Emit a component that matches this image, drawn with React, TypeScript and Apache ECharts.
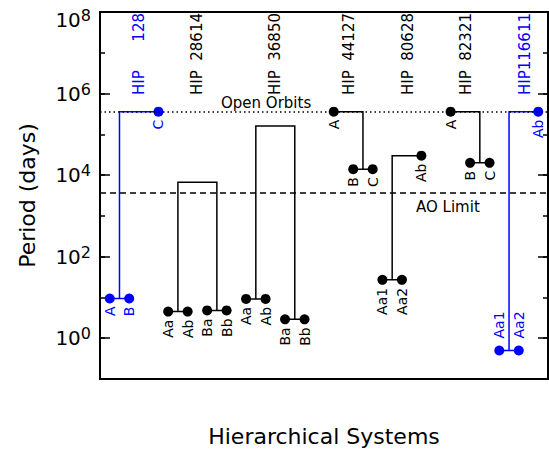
import { useEffect, useRef } from 'react';
import * as echarts from 'echarts';

// Hierarchical multiple systems: each one is two groups (a close pair or a
// single star) joined by an outer orbit. Periods are in days.
const hipNumbers = [128, 28614, 36850, 44127, 80628, 82321, 116611];
const systemLabelSlots = [2, 5, 9, 12.8, 15.8, 18.8, 21.8];

const firstGroupNames = [['A', 'B'], ['Aa', 'Ab'], ['Aa', 'Ab'], ['A'], ['Aa1', 'Aa2'], ['A'], ['Aa1', 'Aa2']];
const firstGroupSlots = [[0.5, 1.5], [3.5, 4.5], [7.5, 8.5], [12], [14.5, 15.5], [18], [20.5, 21.5]];
const firstGroupPeriods = [9.4, 4.5, 9.2, 3.6e5, 27, 3.6e5, 0.5];

const secondGroupNames = [['C'], ['Ba', 'Bb'], ['Ba', 'Bb'], ['B', 'C'], ['Ab'], ['B', 'C'], ['Ab']];
const secondGroupSlots = [[3], [5.5, 6.5], [9.5, 10.5], [13, 14], [16.5], [19, 20], [22.5]];
const secondGroupPeriods = [3.6e5, 4.8, 2.9, 1.4e4, 3.0e4, 2.0e4, 3.6e5];

const outerPeriods = [3.6e5, 6700, 1.6e5, 3.6e5, 3.0e4, 3.6e5, 3.6e5];

const openOrbitPeriod = 3.6e5;
const aoLimitPeriod = 3600;

const labelledExponents = [0, 2, 4, 6, 8];
const slotRange = [0, 23];
const exponentRange = [-1, 8];

// styling
const FONT = 'DejaVu Sans';
const BLACK = '#000000';
const BLUE = '#0000ff';
const blueSystems = [0, 6];

const lg = (p: number) => Math.log10(p);

// "HIP" followed by the number right-justified in six columns; figure spaces
// keep the padding as wide as a digit so every designation has the same length.
const designation = (n: number) => 'HIP' + String(n).padStart(6, ' ').replace(/ /g, '\u2007');

function buildOption() {
  const series: any[] = [];

  // reference levels
  series.push({
    type: 'scatter',
    data: [],
    z: 1,
    markLine: {
      silent: true,
      symbol: 'none',
      animation: false,
      data: [
        {
          yAxis: lg(openOrbitPeriod),
          lineStyle: { type: [1.5, 3], width: 1.5, color: BLACK },
          label: {
            show: true,
            formatter: 'Open Orbits',
            position: 'insideStartTop',
            distance: [121, 1],
            color: BLACK,
            fontSize: 15,
            fontFamily: FONT,
          },
        },
        {
          yAxis: lg(aoLimitPeriod),
          lineStyle: { type: [6, 4], width: 1.5, color: BLACK },
          label: {
            show: true,
            formatter: 'AO Limit',
            position: 'insideStartBottom',
            distance: [316, 6],
            color: BLACK,
            fontSize: 15,
            fontFamily: FONT,
          },
        },
      ],
    },
  });

  hipNumbers.forEach((hip, i) => {
    const color = blueSystems.includes(i) ? BLUE : BLACK;
    const groups: [string[], number[], number][] = [
      [firstGroupNames[i], firstGroupSlots[i], firstGroupPeriods[i]],
      [secondGroupNames[i], secondGroupSlots[i], secondGroupPeriods[i]],
    ];
    const anchors = groups.map(([, slots]) => slots.reduce((a, b) => a + b, 0) / slots.length);
    const outer = lg(outerPeriods[i]);

    const segments: any[] = [];
    groups.forEach(([, slots, p]) => {
      if (slots.length === 2) {
        segments.push({ coords: [[slots[0], lg(p)], [slots[1], lg(p)]] });
      }
    });
    segments.push({
      coords: [
        [anchors[0], lg(groups[0][2])],
        [anchors[0], outer],
        [anchors[1], outer],
        [anchors[1], lg(groups[1][2])],
      ],
    });

    series.push({
      type: 'lines',
      coordinateSystem: 'cartesian2d',
      polyline: true,
      silent: true,
      z: 2,
      lineStyle: { color, width: 1.5, opacity: 1 },
      data: segments,
    });

    const points: any[] = [];
    groups.forEach(([names, slots, p]) => {
      names.forEach((n, k) => {
        const above = p < 1;
        points.push({
          value: [slots[k], lg(p)],
          name: n,
          label: above
            ? { position: 'top', align: 'left', distance: 7 }
            : { position: 'bottom', align: 'right', distance: 3 },
        });
      });
    });

    series.push({
      type: 'scatter',
      z: 3,
      symbol: 'circle',
      symbolSize: 10,
      itemStyle: { color, opacity: 1 },
      label: {
        show: true,
        formatter: '{b}',
        rotate: 90,
        verticalAlign: 'middle',
        color,
        fontSize: 14,
        fontFamily: FONT,
      },
      data: points,
    });

    // system designation along the top
    series.push({
      type: 'scatter',
      z: 3,
      symbolSize: 0,
      clip: false,
      itemStyle: { opacity: 1 },
      data: [{ value: [systemLabelSlots[i], exponentRange[1]], name: designation(hip) }],
      label: {
        show: true,
        formatter: '{b}',
        position: 'bottom',
        distance: 1,
        rotate: 90,
        align: 'right',
        verticalAlign: 'middle',
        color,
        fontSize: 15,
        fontFamily: FONT,
      },
    });
  });

  const yBase = {
    type: 'value',
    min: exponentRange[0],
    max: exponentRange[1],
    splitLine: { show: false },
    axisLine: { show: false },
  };

  return {
    animation: false,
    backgroundColor: '#ffffff',
    textStyle: { fontFamily: FONT },
    grid: {
      left: 100,
      right: 1,
      top: 12,
      bottom: 69,
      show: true,
      borderColor: BLACK,
      borderWidth: 2,
      backgroundColor: 'transparent',
    },
    xAxis: {
      type: 'value',
      min: slotRange[0],
      max: slotRange[1],
      axisLine: { show: false },
      axisTick: { show: false },
      axisLabel: { show: false },
      splitLine: { show: false },
      name: 'Hierarchical Systems',
      nameLocation: 'middle',
      nameGap: 46,
      nameTextStyle: { fontSize: 22, color: BLACK, fontFamily: FONT },
    },
    yAxis: [
      {
        ...yBase,
        position: 'left',
        axisTick: {
          show: true,
          inside: true,
          length: 10,
          customValues: labelledExponents,
          lineStyle: { color: BLACK, width: 1.5 },
        },
        axisLabel: {
          show: true,
          customValues: labelledExponents,
          margin: 9,
          formatter: (v: number) => (v === exponentRange[1] ? `{bt|10}{st|${v}}` : `{b|10}{s|${v}}`),
          rich: {
            b: { fontSize: 20, color: BLACK, fontFamily: FONT },
            s: { fontSize: 16, color: BLACK, fontFamily: FONT, padding: [0, 0, 9, 0] },
            bt: { fontSize: 20, color: BLACK, fontFamily: FONT, padding: [16, 0, 0, 0] },
            st: { fontSize: 16, color: BLACK, fontFamily: FONT, padding: [16, 0, 9, 0] },
          },
        },
        name: 'Period (days)',
        nameLocation: 'middle',
        nameRotate: 90,
        nameGap: 62,
        nameTextStyle: { fontSize: 22, color: BLACK, fontFamily: FONT },
      },
      {
        ...yBase,
        position: 'left',
        interval: 1,
        axisTick: { show: true, inside: true, length: 5, lineStyle: { color: BLACK, width: 1.5 } },
        axisLabel: { show: false },
      },
      {
        ...yBase,
        position: 'right',
        axisTick: {
          show: true,
          inside: true,
          length: 10,
          customValues: labelledExponents,
          lineStyle: { color: BLACK, width: 1.5 },
        },
        axisLabel: { show: false },
      },
      {
        ...yBase,
        position: 'right',
        interval: 1,
        axisTick: { show: true, inside: true, length: 5, lineStyle: { color: BLACK, width: 1.5 } },
        axisLabel: { show: false },
      },
    ],
    series,
  };
}

export default function App() {
  const ref = useRef<HTMLDivElement>(null);
  useEffect(() => {
    if (!ref.current) return;
    const chart = echarts.init(ref.current, undefined, { renderer: 'svg' });
    chart.setOption(buildOption() as any);
    return () => chart.dispose();
  }, []);
  return (
    <div
      ref={ref}
      style={{ position: 'fixed', left: 0, top: 0, width: 549, height: 452, background: '#fff' }}
    />
  );
}
